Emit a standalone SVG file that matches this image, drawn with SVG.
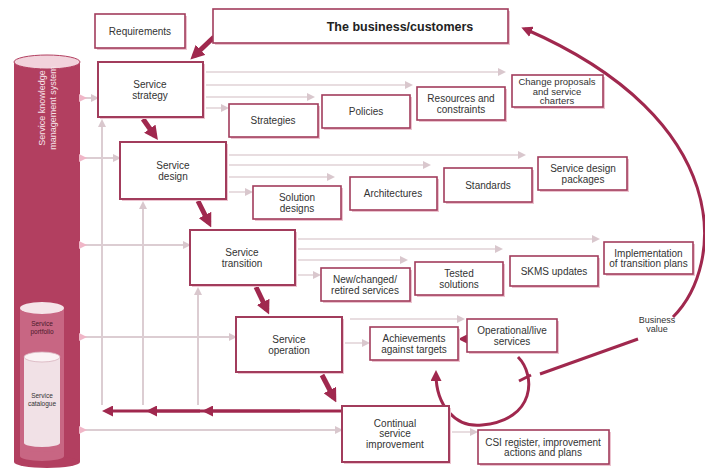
<svg xmlns="http://www.w3.org/2000/svg" width="705" height="468" viewBox="0 0 705 468">
<defs>
<style>
.bx{fill:#fff;stroke:#a23c5c;stroke-width:1.6}
.sh{fill:#ecc3cf}
.t{font-family:"Liberation Sans",Arial,sans-serif;font-size:10px;fill:#333;text-anchor:middle}
.tw{font-family:"Liberation Sans",Arial,sans-serif;font-size:9px;fill:#f6e3e9;text-anchor:middle}
.lt{stroke:#dccdd2;stroke-width:2;fill:none}
.lk{stroke:#e8dde0;stroke-width:2;fill:none}
.th{stroke:#a0284e;stroke-width:5;fill:none}
.dk{stroke:#a0284e;stroke-width:3;fill:none}
</style>
<marker id="ah" markerWidth="8" markerHeight="8" refX="5" refY="4" orient="auto" markerUnits="userSpaceOnUse"><path d="M0,0 L8,4 L0,8 Z" fill="#d9c7cd"/></marker>
<marker id="ap" markerWidth="8" markerHeight="8" refX="5" refY="4" orient="auto" markerUnits="userSpaceOnUse"><path d="M0,0 L8,4 L0,8 Z" fill="#f0b6c7"/></marker>
<marker id="at" markerWidth="14" markerHeight="14" refX="9" refY="7" orient="auto" markerUnits="userSpaceOnUse"><path d="M0,0 L14,7 L0,14 Z" fill="#a0284e"/></marker>
<marker id="ad" markerWidth="11" markerHeight="11" refX="7" refY="5.5" orient="auto" markerUnits="userSpaceOnUse"><path d="M0,0 L11,5.5 L0,11 Z" fill="#a0284e"/></marker>
</defs>
<rect width="705" height="468" fill="#fff"/>

<g id="skms">
<rect x="14" y="62" width="66" height="400" fill="#b23f60"/>
<ellipse cx="47" cy="462" rx="33" ry="6" fill="#b23f60"/>
<ellipse cx="47" cy="62" rx="33" ry="7" fill="#f2d3dc" stroke="#b23f60" stroke-width="1"/>
<text class="tw" transform="translate(45,108) rotate(-90)">Service knowledge</text>
<text class="tw" transform="translate(56,108) rotate(-90)">management system</text>
<rect x="20" y="308" width="44" height="148" fill="#c86683"/>
<ellipse cx="42" cy="456" rx="22" ry="5" fill="#c86683"/>
<ellipse cx="42" cy="308" rx="22" ry="6" fill="#f5e4e9"/>
<text class="t" style="font-size:6.5px;fill:#4a1a2a" x="42" y="326">Service</text>
<text class="t" style="font-size:6.5px;fill:#4a1a2a" x="42" y="334">portfolio</text>
<rect x="24" y="357" width="36" height="86" fill="#f1e1e6"/>
<ellipse cx="42" cy="443" rx="18" ry="4" fill="#f1e1e6"/>
<ellipse cx="42" cy="357" rx="18" ry="5" fill="#fbf3f5" stroke="#d8b3be" stroke-width="0.8"/>
<text class="t" style="font-size:6.5px" x="42" y="398">Service</text>
<text class="t" style="font-size:6.5px" x="42" y="406">catalogue</text>
</g>

<g id="connectors">
<line class="lt" x1="84" y1="98" x2="96" y2="98" marker-start="url(#ap)" marker-end="url(#ah)"/>
<line class="lt" x1="84" y1="158" x2="118" y2="158" marker-start="url(#ap)" marker-end="url(#ah)"/>
<line class="lt" x1="84" y1="245" x2="188" y2="245" marker-start="url(#ap)" marker-end="url(#ah)"/>
<line class="lt" x1="84" y1="337" x2="234" y2="337" marker-start="url(#ap)" marker-end="url(#ah)"/>
<line class="lt" x1="84" y1="430" x2="340" y2="430" marker-start="url(#ap)" marker-end="url(#ah)"/>
<line class="lt" x1="102" y1="405" x2="102" y2="122" marker-end="url(#ah)"/>
<line class="lt" x1="143" y1="405" x2="143" y2="204" marker-end="url(#ah)"/>
<line class="lt" x1="198" y1="405" x2="198" y2="290" marker-end="url(#ah)"/>
<line class="lk" x1="206" y1="72" x2="503" y2="72" marker-end="url(#ah)"/>
<line class="lk" x1="206" y1="85" x2="410" y2="85" marker-end="url(#ah)"/>
<line class="lk" x1="206" y1="97" x2="312" y2="97" marker-end="url(#ah)"/>
<line class="lk" x1="206" y1="108" x2="226" y2="108" marker-end="url(#ah)"/>
<line class="lk" x1="229" y1="155" x2="523" y2="155" marker-end="url(#ah)"/>
<line class="lk" x1="229" y1="165" x2="428" y2="165" marker-end="url(#ah)"/>
<line class="lk" x1="229" y1="177" x2="332" y2="177" marker-end="url(#ah)"/>
<line class="lk" x1="229" y1="192" x2="250" y2="192" marker-end="url(#ah)"/>
<line class="lk" x1="298" y1="239" x2="597" y2="239" marker-end="url(#ah)"/>
<line class="lk" x1="298" y1="249" x2="500" y2="249" marker-end="url(#ah)"/>
<line class="lk" x1="298" y1="260" x2="405" y2="260" marker-end="url(#ah)"/>
<line class="lk" x1="298" y1="275" x2="318" y2="275" marker-end="url(#ah)"/>
<line class="lk" x1="350" y1="319" x2="462" y2="319" marker-end="url(#ah)"/>
<line class="lk" x1="345" y1="343" x2="367" y2="343" marker-end="url(#ah)"/>
<line class="lk" x1="452" y1="432" x2="475" y2="432" marker-end="url(#ah)"/>
<line class="th" x1="214" y1="37" x2="194" y2="56" marker-end="url(#at)"/>
<line class="th" x1="143" y1="119" x2="155" y2="136" marker-end="url(#at)"/>
<line class="th" x1="198" y1="201" x2="209" y2="223" marker-end="url(#at)"/>
<line class="th" x1="256" y1="287" x2="267" y2="310" marker-end="url(#at)"/>
<line class="th" x1="322" y1="375" x2="334" y2="398" marker-end="url(#at)"/>
<line class="dk" x1="342" y1="411" x2="106" y2="411" marker-end="url(#ad)"/>
<line class="dk" x1="200" y1="411" x2="150" y2="411" marker-end="url(#ad)"/>
<line class="dk" x1="300" y1="411" x2="206" y2="411" marker-end="url(#ad)"/>
<path class="dk" d="M518 357 C536 375 536 420 482 425 C455 428 436 405 436 374" marker-end="url(#ad)"/>
<line class="dk" x1="519" y1="381" x2="531" y2="375"/>
<line class="dk" x1="467" y1="339" x2="462" y2="339" marker-end="url(#ad)" style="stroke-width:2"/>
<line class="dk" x1="540" y1="374" x2="638" y2="339"/>
<path class="dk" d="M673 317 C725 265 735 120 525 29" marker-end="url(#ad)"/>
</g>

<g id="requirements"><rect class="sh" x="97" y="16" width="90" height="34"/><rect class="bx" x="95" y="14" width="90" height="34"/><text class="t" x="140" y="34.5">Requirements</text></g>
<g id="business"><rect class="sh" x="215" y="11" width="295" height="34"/><rect class="bx" x="213" y="9" width="295" height="34"/><text class="t" style="font-size:12.5px;font-weight:bold;fill:#222" x="400" y="31">The business/customers</text></g>

<g id="strategy"><rect class="sh" x="100" y="64" width="105" height="55"/><rect class="bx" x="98" y="62" width="105" height="55" style="stroke-width:2"/><text class="t" x="150" y="88">Service</text><text class="t" x="150" y="98.5">strategy</text></g>
<g id="strategies"><rect class="sh" x="231" y="106" width="89" height="33"/><rect class="bx" x="229" y="104" width="89" height="33"/><text class="t" x="273" y="124">Strategies</text></g>
<g id="policies"><rect class="sh" x="324" y="97" width="88" height="33"/><rect class="bx" x="322" y="95" width="88" height="33"/><text class="t" x="366" y="115">Policies</text></g>
<g id="resources"><rect class="sh" x="419" y="89" width="88" height="33"/><rect class="bx" x="417" y="87" width="88" height="33"/><text class="t" x="461" y="102">Resources and</text><text class="t" x="461" y="112.5">constraints</text></g>
<g id="charters"><rect class="sh" x="514" y="77" width="91" height="32"/><rect class="bx" x="512" y="75" width="91" height="32"/><text class="t" style="font-size:9.5px" x="557" y="85">Change proposals</text><text class="t" style="font-size:9.5px" x="557" y="94.5">and service</text><text class="t" style="font-size:9.5px" x="557" y="104">charters</text></g>

<g id="design"><rect class="sh" x="122" y="144" width="106" height="57"/><rect class="bx" x="120" y="142" width="106" height="57" style="stroke-width:2"/><text class="t" x="173" y="169">Service</text><text class="t" x="173" y="179.5">design</text></g>
<g id="solution"><rect class="sh" x="255" y="188" width="88" height="33"/><rect class="bx" x="253" y="186" width="88" height="33"/><text class="t" x="297" y="201">Solution</text><text class="t" x="297" y="211.5">designs</text></g>
<g id="architectures"><rect class="sh" x="352" y="179" width="87" height="33"/><rect class="bx" x="350" y="177" width="87" height="33"/><text class="t" x="393" y="197">Architectures</text></g>
<g id="standards"><rect class="sh" x="446" y="170" width="88" height="34"/><rect class="bx" x="444" y="168" width="88" height="34"/><text class="t" x="488" y="188.5">Standards</text></g>
<g id="sdp"><rect class="sh" x="540" y="159" width="89" height="33"/><rect class="bx" x="538" y="157" width="89" height="33"/><text class="t" x="583" y="172">Service design</text><text class="t" x="583" y="182.5">packages</text></g>

<g id="transition"><rect class="sh" x="192" y="232" width="105" height="55"/><rect class="bx" x="190" y="230" width="105" height="55" style="stroke-width:2"/><text class="t" x="242" y="256">Service</text><text class="t" x="242" y="266.5">transition</text></g>
<g id="newchanged"><rect class="sh" x="323" y="270" width="89" height="33"/><rect class="bx" x="321" y="268" width="89" height="33"/><text class="t" x="365" y="283">New/changed/</text><text class="t" x="365" y="293.5">retired services</text></g>
<g id="tested"><rect class="sh" x="417" y="264" width="88" height="33"/><rect class="bx" x="415" y="262" width="88" height="33"/><text class="t" x="459" y="277">Tested</text><text class="t" x="459" y="287.5">solutions</text></g>
<g id="skmsupd"><rect class="sh" x="512" y="258" width="88" height="30"/><rect class="bx" x="510" y="256" width="88" height="30"/><text class="t" x="554" y="274.5">SKMS updates</text></g>
<g id="implementation"><rect class="sh" x="606" y="244" width="89" height="32"/><rect class="bx" x="604" y="242" width="89" height="32"/><text class="t" x="648.5" y="256.5">Implementation</text><text class="t" x="648.5" y="267">of transition plans</text></g>

<g id="operation"><rect class="sh" x="238" y="319" width="106" height="55"/><rect class="bx" x="236" y="317" width="106" height="55" style="stroke-width:2"/><text class="t" x="289" y="343">Service</text><text class="t" x="289" y="353.5">operation</text></g>
<g id="achievements"><rect class="sh" x="372" y="329" width="88" height="33"/><rect class="bx" x="370" y="327" width="88" height="33"/><text class="t" x="414" y="342">Achievements</text><text class="t" x="414" y="352.5">against targets</text></g>
<g id="operational"><rect class="sh" x="469" y="321" width="90" height="33"/><rect class="bx" x="467" y="319" width="90" height="33"/><text class="t" x="512" y="334">Operational/live</text><text class="t" x="512" y="344.5">services</text></g>

<g id="csi"><rect class="sh" x="344" y="408" width="107" height="56"/><rect class="bx" x="342" y="406" width="107" height="56" style="stroke-width:2"/><text class="t" x="395" y="426.5">Continual</text><text class="t" x="395" y="437">service</text><text class="t" x="395" y="447.5">improvement</text></g>
<g id="csiregister"><rect class="sh" x="480" y="432" width="131" height="34"/><rect class="bx" x="478" y="430" width="131" height="34"/><text class="t" x="543" y="445.5">CSI register, improvement</text><text class="t" x="543" y="456">actions and plans</text></g>

<g id="businessvalue"><text class="t" style="font-size:9px" x="657" y="323">Business</text><text class="t" style="font-size:9px" x="657" y="332">value</text></g>
</svg>
